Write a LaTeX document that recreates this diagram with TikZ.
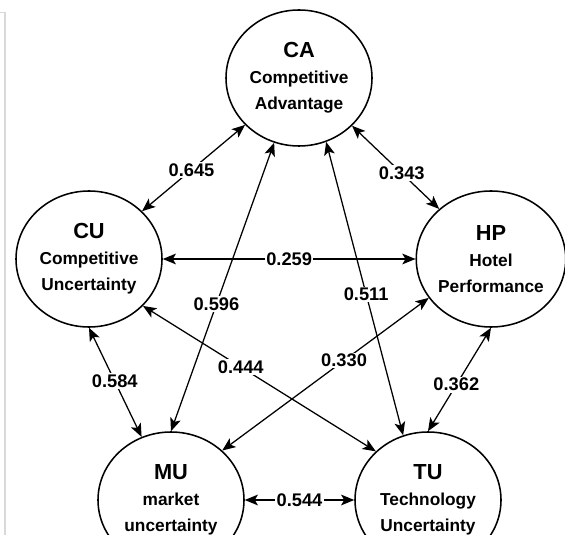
\documentclass[tikz,border=0pt]{standalone}
\usepackage{fontspec}
\setmainfont{Liberation Sans}
\usepackage{tikz}
\usetikzlibrary{shapes.geometric, arrows.meta}
\tikzset{
    construct/.style={ellipse, draw=black, line width=1.1pt, minimum width=3.65cm, minimum height=3.4cm, inner sep=0pt, align=center, font=\fontsize{12.3}{18.5}\selectfont\bfseries},
    link/.style={line width=0.9pt, <->, >={Stealth[length=3.3mm, width=2.7mm, inset=0.8mm]}, black},
    coef/.style={fill=white, inner sep=1pt, font=\fontsize{13}{15}\selectfont\bfseries}
}
\newcommand{\abbr}[1]{{\fontsize{15.5}{18.5}\selectfont #1}}

\begin{document}
\begin{tikzpicture}
        \useasboundingbox (0,0) rectangle (14.125,-13.375);
        \clip (0,0) rectangle (14.125,-13.375);
        % thin grey frame on the left
        \draw[gray!30, line width=1pt] (0,-0.32) -- (0.12,-0.32) -- (0.12,-13.375);

        % Constructs
        \node[construct] (ca) at (7.475, -1.95) {\abbr{CA}\\Competitive\\Advantage};
        \node[construct] (cu) at (2.225, -6.475) {\abbr{CU}\\Competitive\\Uncertainty};
        \node[construct] (hp) at (12.275, -6.475) {\abbr{HP}\\Hotel\\Performance};
        \node[construct] (mu) at (4.275, -12.5) {\abbr{MU}\\market\\uncertainty};
        \node[construct] (tu) at (10.7, -12.5) {\abbr{TU}\\Technology\\Uncertainty};

        % Correlations between constructs
        \draw[link] (ca.221) -- node[coef, pos=0.52] {0.645} (cu.42);
        \draw[link] (ca.-42) -- node[coef, pos=0.57] {0.343} (hp.136);
        \draw[link] (cu.east) -- node[coef, pos=0.5] {0.259} (hp.west);
        \draw[link] (ca.249) -- node[coef, pos=0.56] {0.596} (mu.north);
        \draw[link] (ca.-67) -- node[coef, pos=0.52] {0.511} (tu.111);
        \draw[link] (cu.south) -- node[coef, pos=0.49] {0.584} (mu.115);
        \draw[link] (cu.-41) -- node[coef, pos=0.42] {0.444} (tu.137);
        \draw[link] (mu.44) -- node[coef, pos=0.59] {0.330} (hp.212);
        \draw[link] (hp.south) -- node[coef, pos=0.55] {0.362} (tu.north);
        \draw[link] (mu.east) -- node[coef, pos=0.5] {0.544} (tu.west);
    \end{tikzpicture}
\end{document}
